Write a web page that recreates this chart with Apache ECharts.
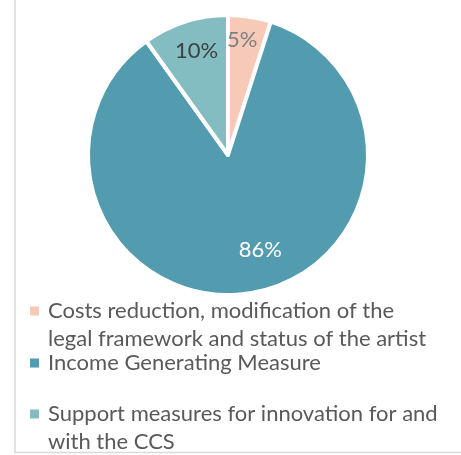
<!DOCTYPE html>
<html>
<head>
<meta charset="utf-8">
<script src="https://cdn.jsdelivr.net/npm/echarts@6/dist/echarts.min.js"></script>
<style>
  html, body { margin: 0; padding: 0; background: #fff; }
  #chart { width: 461px; height: 455px; }
</style>
</head>
<body>
<div id="chart"></div>
<script>
// Share of measures by type (percent)
const categories = [
  'Costs reduction, modification of the\nlegal framework and status of the artist',
  'Income Generating Measure',
  'Support measures for innovation for and\nwith the CCS'
];
const shares = [5, 86, 10];

const colors = ['#F7CAB7', '#539BAE', '#84BDC1'];
const labelColors = ['#7F7F7F', '#FFFFFF', '#404040'];
// nudges applied to the inside labels
const labelShift = [[3, -43], [21, 23], [-9, -35]];

const FONT = 'Lato, "Open Sans", sans-serif';
const LINE = 28;

// square marker sitting at the top of a taller box, so that it lines up
// with the first line of a two-line legend entry
const TOP_SQUARE = 'path://M0,0H9V9H0Z M0,37L9,37';

const chart = echarts.init(document.getElementById('chart'), null, { renderer: 'canvas' });

function legendFor(i, top) {
  const twoLines = categories[i].indexOf('\n') >= 0;
  return {
    orient: 'vertical',
    left: 30,
    top: top,
    padding: 0,
    itemWidth: 9,
    itemHeight: twoLines ? 37 : 9,
    icon: twoLines ? TOP_SQUARE : 'rect',
    itemStyle: { borderWidth: 0 },
    selectedMode: false,
    data: [categories[i]],
    textStyle: {
      fontFamily: FONT,
      fontSize: 22,
      color: '#595959',
      lineHeight: LINE,
      padding: [0, 0, 0, 4]
    }
  };
}

chart.setOption({
  animation: false,
  color: colors,
  legend: [legendFor(0, 297), legendFor(1, 349), legendFor(2, 400)],
  graphic: [{
    type: 'polyline',
    shape: { points: [[15, 0], [15, 452.5], [461, 452.5]] },
    style: { stroke: '#D9D9D9', lineWidth: 1.5, fill: null },
    silent: true
  }],
  series: [{
    type: 'pie',
    center: [228, 155],
    radius: [0, 140],
    startAngle: 90,
    clockwise: true,
    avoidLabelOverlap: false,
    itemStyle: { borderColor: '#FFFFFF', borderWidth: 4 },
    label: {
      show: true,
      position: 'inside',
      formatter: '{c}%',
      fontFamily: FONT,
      fontSize: 22
    },
    labelLine: { show: false },
    labelLayout: function (p) {
      return { dx: labelShift[p.dataIndex][0], dy: labelShift[p.dataIndex][1] };
    },
    emphasis: { disabled: true },
    data: categories.map(function (name, i) {
      return {
        name: name,
        value: shares[i],
        label: { color: labelColors[i] }
      };
    })
  }]
});
</script>
</body>
</html>
